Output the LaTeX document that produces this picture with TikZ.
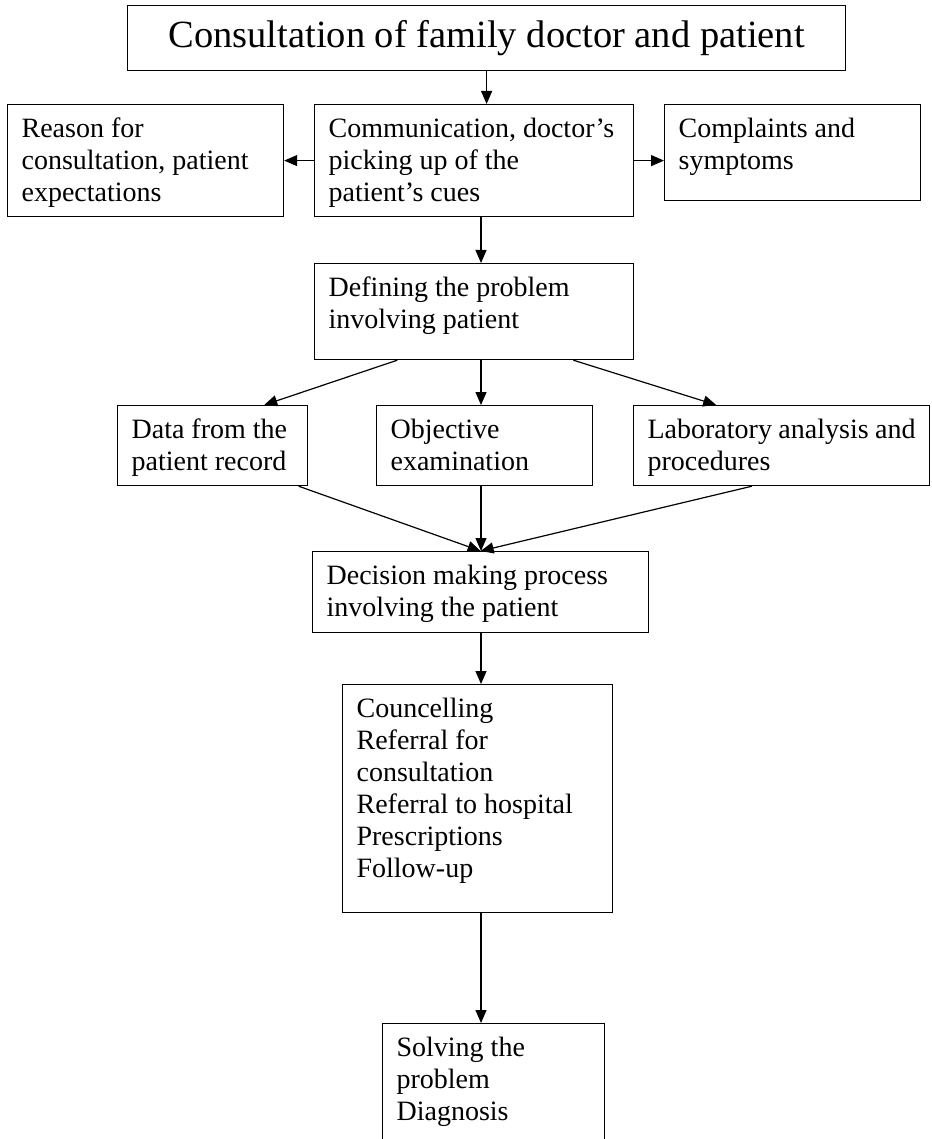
\documentclass[tikz,border=0pt]{standalone}
\usepackage{fontspec}
\setmainfont{Liberation Serif}
\usetikzlibrary{calc}
\usetikzlibrary{arrows.meta}
\tikzset{>={Triangle[length=13pt,width=11pt]}}
\newcommand{\bodyfont}{\fontsize{28}{32}\selectfont}
\newcommand{\titlefont}{\fontsize{38.5}{44}\selectfont}
% text at the top left of a box of width #1 and height #2
\newcommand{\celltext}[3]{\parbox[t][\dimexpr#2pt-21pt\relax][t]{\dimexpr#1pt-28pt\relax}{\raggedright\strut#3}}
\tikzset{
  box/.style={draw, anchor=north west, inner xsep=14pt, inner ysep=10.5pt, font=\bodyfont},
  titlebox/.style={draw, anchor=north west, inner sep=0pt, minimum width=718pt, minimum height=65pt, font=\titlefont}
}

\begin{document}
\begin{tikzpicture}[x=1pt,y=-1pt,line width=1.2pt]
  \useasboundingbox (0,0) rectangle (931,1139);
  \clip (0,0) rectangle (931,1139);

  % 中轴
  \coordinate (axis) at (481,0);

  % 方框
  \node[titlebox] (title) at (127,5) {Consultation of family doctor and patient};
  \node[box] (reason) at (7,104) {\celltext{276}{112}{Reason for\\consultation, patient\\expectations}};
  \node[box] (comm) at (314,104) {\celltext{319}{112}{Communication, doctor’s\\picking up of the\\patient’s cues}};
  \node[box] (complaints) at (664,104) {\celltext{256}{96}{Complaints and\\symptoms}};
  \node[box] (define) at (314,263) {\celltext{319}{96}{Defining the problem\\involving patient}};
  \node[box] (data) at (117,405) {\celltext{190}{80}{Data from the\\patient record}};
  \node[box] (objective) at (376,405) {\celltext{216}{80}{Objective\\examination}};
  \node[box] (lab) at (633,405) {\celltext{296}{80}{Laboratory analysis and\\procedures}};
  \node[box] (decision) at (312,551) {\celltext{336}{81}{Decision making process\\involving the patient}};
  \node[box] (councel) at (342,684) {\celltext{270}{228}{Councelling\\Referral for\\consultation\\Referral to hospital\\Prescriptions\\Follow-up}};
  \node[box] (solving) at (382,1023) {\celltext{222}{140}{Solving the\\problem\\Diagnosis}};

  % 箭头
  \draw[->] (title.south) -- (title.south |- comm.north);
  \draw[->] (comm.west) -- (comm.west -| reason.east);
  \draw[->] (comm.east) -- (comm.east -| complaints.west);
  \draw[->] (comm.south -| axis) -- (define.north -| axis);

  \draw[->] ($(define.south west)!0.26!(define.south east)$) -- ($(data.north west)!0.77!(data.north east)$);
  \draw[->] (define.south -| axis) -- (objective.north -| axis);
  \draw[->] ($(define.south west)!0.81!(define.south east)$) -- ($(lab.north west)!0.28!(lab.north east)$);

  \draw[->] ($(data.south west)!0.95!(data.south east)$) -- (decision.north);
  \draw[->] (objective.south -| axis) -- (decision.north -| axis);
  \draw[->] ($(lab.south west)!0.4!(lab.south east)$) -- (decision.north);

  \draw[->] (decision.south -| axis) -- (councel.north -| axis);
  \draw[->] (councel.south -| axis) -- (solving.north -| axis);
\end{tikzpicture}
\end{document}
